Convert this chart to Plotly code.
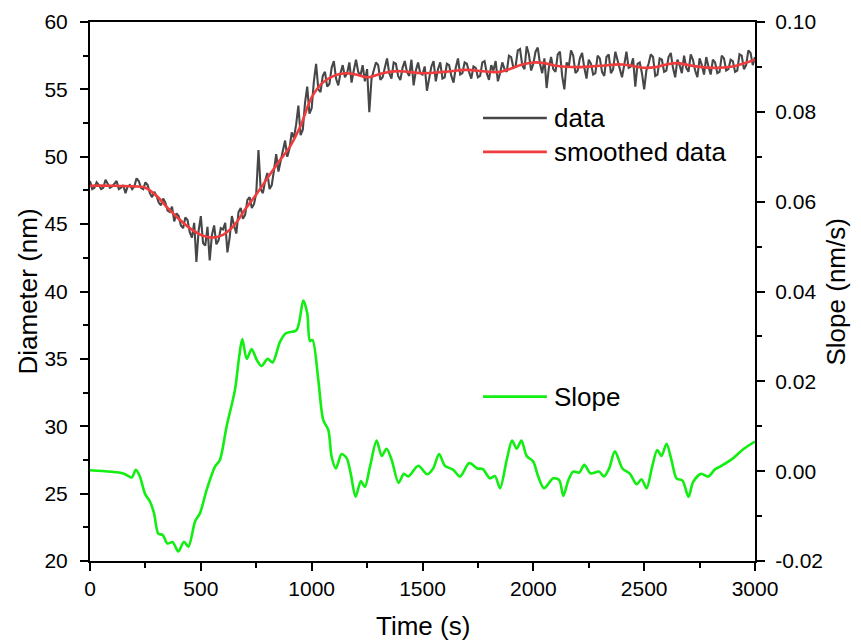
import plotly.graph_objects as go

# ---------------- data ----------------
time_s = list(range(0, 3001, 10))
diameter_nm = [
    48.2, 47.6, 47.7, 48.1, 47.9, 47.6, 47.7, 48.3, 48.0, 47.7,
    47.8, 48.0, 48.2, 47.6, 47.7, 47.9, 47.3, 47.8, 47.9, 47.6,
    47.8, 48.4, 48.2, 47.7, 47.6, 48.1, 47.9, 47.3, 47.0, 47.4,
    47.1, 46.6, 46.4, 46.9, 46.6, 46.0, 45.9, 46.3, 45.2, 45.8,
    45.6, 44.9, 44.7, 45.5, 45.3, 44.4, 44.0, 45.1, 42.2, 44.5,
    45.6, 43.6, 43.4, 44.8, 42.3, 44.2, 44.9, 43.5, 43.8, 44.7,
    44.6, 45.1, 42.9, 44.0, 45.6, 44.9, 44.3, 45.9, 46.2, 45.4,
    45.7, 46.8, 47.0, 46.2, 46.5, 47.3, 50.5, 47.6, 47.3, 48.2,
    48.8, 47.6, 47.9, 49.0, 50.2, 48.9, 49.6, 50.5, 51.2, 50.0,
    50.6, 51.8, 51.4, 52.4, 53.8, 51.6, 52.0, 54.0, 55.2, 53.2,
    53.6, 55.6, 56.9, 55.0, 54.8, 56.0, 56.3, 55.2, 55.4, 56.6,
    57.1, 55.8, 55.3, 56.2, 56.8, 55.9, 56.2, 57.0, 55.5, 56.4,
    57.2, 56.3, 56.0, 56.8, 55.6, 56.5, 53.3, 55.8, 56.5, 57.0,
    56.8, 55.7, 55.9, 56.6, 57.3, 56.2, 55.8, 57.0, 56.9, 56.0,
    55.7, 56.6, 57.1, 56.3, 56.0, 57.2, 55.3, 56.4, 57.0, 56.2,
    56.1, 56.7, 54.9, 55.8, 56.7, 57.1, 55.6, 56.5, 57.0, 55.8,
    55.9, 56.9, 56.8, 56.0, 55.5, 56.6, 57.3, 56.1, 56.2, 57.0,
    56.9, 56.3, 55.8, 56.7, 56.6, 55.9, 56.0, 57.0, 57.1, 56.2,
    55.7, 56.8, 56.4, 57.1, 55.6, 56.2, 57.0, 56.5, 56.3, 57.5,
    57.4, 56.6, 56.7, 57.9, 58.0, 56.8, 56.5, 58.2, 57.6, 56.4,
    56.9, 57.8, 58.1, 56.9, 56.2, 57.3, 55.1, 56.6, 57.4, 56.5,
    56.3, 57.6, 57.8, 56.0, 55.0, 57.0, 56.7, 57.9, 57.5, 56.2,
    56.4, 57.3, 57.7, 56.6, 55.8, 57.2, 56.9, 56.1, 56.2, 57.5,
    57.3, 56.3, 56.0, 57.4, 57.6, 56.2, 56.5, 57.8, 57.1, 56.4,
    55.9, 56.8, 57.8, 56.6, 56.7, 57.3, 55.2, 56.9, 57.0, 56.2,
    55.0, 56.4, 56.9, 57.6, 57.4, 56.0, 56.1, 57.3, 57.2, 56.3,
    56.4, 57.4, 57.7, 56.6, 55.9, 57.2, 56.8, 56.2, 57.5, 56.6,
    56.3, 57.6, 57.2, 56.4, 55.9, 57.3, 56.8, 56.1, 57.4, 56.7,
    56.1, 57.2, 57.0, 56.2, 56.3, 57.5, 57.3, 56.4, 56.5, 57.2,
    57.1, 56.3, 56.4, 57.6, 57.5, 56.5, 56.8, 57.9, 57.7, 56.8,
    57.4,
]

smooth_t = [0, 100, 200, 250, 300, 350, 400, 450, 500, 550, 600, 650, 700, 750,
            800, 850, 900, 950, 1000, 1050, 1100, 1150, 1200, 1250, 1300, 1350,
            1400, 1500, 1600, 1700, 1800, 1850, 1900, 1950, 2000, 2050, 2100,
            2200, 2300, 2400, 2500, 2550, 2600, 2650, 2700, 2800, 2900, 3000]
smooth_d = [47.85, 47.85, 47.8, 47.7, 47.1, 46.2, 45.4, 44.7, 44.2, 44.0, 44.2,
            44.9, 46.1, 47.2, 48.4, 49.6, 50.7, 52.3, 54.4, 55.5, 56.0, 56.2,
            56.1, 55.9, 56.1, 56.3, 56.35, 56.2, 56.3, 56.45, 56.3, 56.3, 56.55,
            56.85, 57.0, 56.95, 56.75, 56.65, 56.75, 56.85, 56.6, 56.65, 56.85,
            56.95, 56.8, 56.6, 56.7, 57.2]

slope_t = [0, 150, 188, 207, 225, 248, 271, 289, 308, 328, 349, 373, 398, 424,
           444, 474, 496, 526, 564, 586, 616, 654, 673, 687, 707, 729, 752, 774,
           801, 824, 857, 884, 932, 962, 980, 992, 1004, 1030, 1052, 1075, 1090,
           1109, 1135, 1158, 1176, 1198, 1222, 1240, 1263, 1293, 1316, 1338,
           1361, 1392, 1416, 1436, 1481, 1521, 1548, 1575, 1601, 1639, 1669,
           1711, 1747, 1771, 1804, 1827, 1850, 1880, 1904, 1925, 1946, 1970,
           2000, 2022, 2048, 2090, 2117, 2135, 2158, 2180, 2207, 2230, 2258,
           2297, 2318, 2342, 2368, 2402, 2436, 2466, 2488, 2511, 2536, 2559,
           2578, 2601, 2623, 2646, 2673, 2700, 2721, 2756, 2789, 2819, 2842,
           2902, 2947, 3000]
slope_v = [0.0002, -0.0005, -0.0014, 0.0003, -0.0012, -0.0050, -0.0068, -0.0094,
           -0.0139, -0.0142, -0.0161, -0.0158, -0.0179, -0.0157, -0.0168,
           -0.0112, -0.0094, -0.0042, 0.0010, 0.0025, 0.0099, 0.0181, 0.0255,
           0.0294, 0.0250, 0.0272, 0.0248, 0.0234, 0.0250, 0.0242, 0.0288,
           0.0307, 0.0314, 0.0380, 0.0352, 0.0290, 0.0292, 0.0203, 0.0114,
           0.0092, 0.0032, 0.0006, 0.0038, 0.0029, -0.0005, -0.0057, -0.0022,
           -0.0035, 0.0010, 0.0068, 0.0034, 0.0050, 0.0025, -0.0026, -0.0006,
           -0.0012, 0.0012, -0.0007, 0.0006, 0.0038, 0.0012, 0.0003, -0.0012,
           0.0018, 0.0006, 0.0005, -0.0016, -0.0011, -0.0038, 0.0025, 0.0068,
           0.0050, 0.0068, 0.0034, 0.0021, -0.0012, -0.0038, -0.0016, -0.0020,
           -0.0055, -0.0020, -0.0001, -0.0003, 0.0014, -0.0005, -0.0001,
           -0.0012, 0.0006, 0.0044, 0.0006, -0.0006, -0.0029, -0.0018, -0.0038,
           0.0010, 0.0047, 0.0034, 0.0061, 0.0025, -0.0016, -0.0021, -0.0057,
           -0.0024, -0.0006, -0.0012, 0.0004, 0.0010, 0.0029, 0.0049, 0.0066]

x_ticks = [0, 500, 1000, 1500, 2000, 2500, 3000]
y_ticks = [20, 25, 30, 35, 40, 45, 50, 55, 60]
y2_ticks = [-0.02, 0.00, 0.02, 0.04, 0.06, 0.08, 0.10]
y2_ticklabels = ["-0.02", "0.00", "0.02", "0.04", "0.06", "0.08", "0.10"]

GRAY = "#474747"
RED = "#f03c3c"
GREEN = "#11ee11"
FONT = "Liberation Sans, Arial, sans-serif"

fig = go.Figure()
fig.add_trace(go.Scatter(x=time_s, y=diameter_nm, mode="lines", name="data",
                         line=dict(color=GRAY, width=2.1), showlegend=False))
fig.add_trace(go.Scatter(x=smooth_t, y=smooth_d, mode="lines", name="smoothed data",
                         line=dict(color=RED, width=2.6, shape="spline", smoothing=1.0),
                         showlegend=False))
fig.add_trace(go.Scatter(x=slope_t, y=slope_v, mode="lines", name="Slope", yaxis="y2",
                         line=dict(color=GREEN, width=2.6, shape="spline", smoothing=0.8),
                         showlegend=False))

axis_common = dict(showline=True, linecolor="black", linewidth=2, showgrid=False,
                   zeroline=False, ticks="outside", ticklen=8, tickwidth=2,
                   tickcolor="black", tickfont=dict(family=FONT, size=21, color="black"))

fig.update_layout(
    width=861, height=643,
    margin=dict(l=90, r=106, t=22, b=82, autoexpand=False),
    paper_bgcolor="white", plot_bgcolor="white",
    font=dict(family=FONT, color="black"),
    xaxis=dict(range=[0, 3000], tickvals=x_ticks, mirror=True,
               minor=dict(ticks="outside", ticklen=5, tickwidth=2, tickcolor="black", dtick=250),
               **axis_common),
    yaxis=dict(range=[20, 60], tickvals=y_ticks, ticklabelstandoff=8,
               minor=dict(ticks="outside", ticklen=5, tickwidth=2, tickcolor="black", dtick=2.5),
               **axis_common),
    yaxis2=dict(range=[-0.02, 0.10], tickvals=y2_ticks, ticktext=y2_ticklabels,
                overlaying="y", side="right", ticklabelstandoff=6,
                minor=dict(ticks="outside", ticklen=5, tickwidth=2, tickcolor="black", dtick=0.01),
                **axis_common),
)

# axis titles
titles = [("Time (s)", 0.5, -0.1215, 0), ("Diameter (nm)", -0.0947, 0.5, -90),
          ("Slope (nm/s)", 1.1218, 0.5, -90)]
for text, xx, yy, ang in titles:
    fig.add_annotation(text=text, xref="paper", yref="paper", x=xx, y=yy,
                       xanchor="center", yanchor="middle", textangle=ang, borderpad=0,
                       showarrow=False, font=dict(family=FONT, size=26, color="black"))

# legend drawn as line samples + text labels
legend_items = [("data", GRAY, 0.822, 2.4), ("smoothed data", RED, 0.759, 2.6),
                ("Slope", GREEN, 0.305, 2.6)]
for label, color, yy, w in legend_items:
    fig.add_shape(type="line", xref="paper", yref="paper", x0=0.591, x1=0.687,
                  y0=yy, y1=yy, line=dict(color=color, width=w))
    fig.add_annotation(text=label, xref="paper", yref="paper", x=0.695, y=yy,
                       xanchor="left", yanchor="middle", showarrow=False,
                       font=dict(family=FONT, size=26, color="black"))

fig.write_html("out.html")
